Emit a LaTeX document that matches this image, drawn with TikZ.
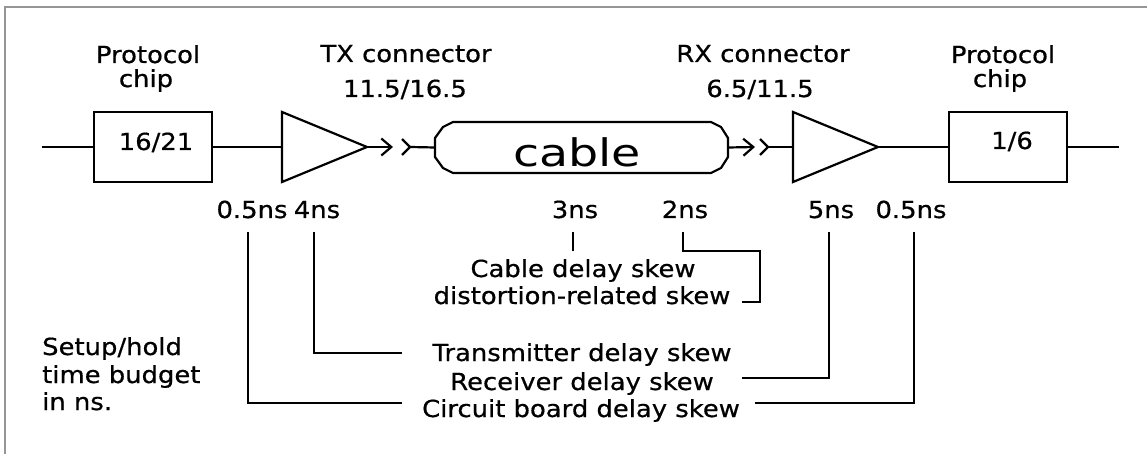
\documentclass[tikz,border=0pt]{standalone}
\usepackage{fontspec}
\usetikzlibrary{arrows.meta,shapes.geometric}
\newfontfamily\hfont[FakeStretch=1.1,FakeBold=0.6]{DejaVu Sans}
\newfontfamily\cfont[FakeStretch=1.25]{DejaVu Sans}
\definecolor{framegray}{RGB}{150,150,150}
\begin{document}
\begin{tikzpicture}[x=1pt,y=-1pt,
  wire/.style={line width=2.2pt},
  txt/.style={font=\hfont\fontsize{23.5}{24}\selectfont, inner sep=0pt, anchor=base},
  chipbox/.style={draw, line width=2.2pt, minimum width=118pt, minimum height=70pt, inner sep=0pt, outer sep=0pt},
  amp/.style={draw, line width=2.2pt, isosceles triangle, isosceles triangle stretches,
              minimum width=70pt, minimum height=85pt, inner sep=0pt, outer sep=0pt, anchor=lower side},
  barb/.style={-{Straight Barb[length=10pt,width=17pt]}},
  bracket/.style={line width=2.2pt}]
\useasboundingbox (0,0) rectangle (1147,454);
\draw[framegray, line width=1.2pt] (5,454) -- (5,7) -- (1147,7);

% main chain
\node[chipbox] (chipL) at (153,147) {};
\node[chipbox] (chipR) at (1008,147) {};
\node[amp] (tx) at (282,147) {};
\node[amp] (rx) at (793,147) {};
\node[minimum width=293pt, minimum height=51pt, inner sep=0pt, outer sep=0pt] (cable) at (581.5,147.5) {};
\draw[wire, line join=round] (453,122) -- (443,127) -- (435,138) -- (435,157) -- (443,168) -- (453,173)
   -- (711,173) -- (721,168) -- (728,157) -- (728,138) -- (721,127) -- (711,122) -- cycle;

\coordinate (inL) at (42,147);
\coordinate (outR) at (1119,147);
\coordinate (txTip) at (393,147);
\coordinate (txCh) at (410,147);
\coordinate (rxTip) at (755,147);
\coordinate (rxCh) at (768,147);

\draw[wire] (inL) -- (chipL.west);
\draw[wire] (chipL.east) -- (tx.lower side);
\draw[wire, barb] (tx.apex) -- (txTip);
\draw[wire] ([shift={(-8,-8)}]txCh) -- (txCh) -- ([shift={(-8,8)}]txCh);
\draw[wire] (txCh) -- (cable.west);
\draw[wire, barb] (cable.east) -- (rxTip);
\draw[wire] ([shift={(-8,-8)}]rxCh) -- (rxCh) -- ([shift={(-8,8)}]rxCh);
\draw[wire] (rxCh) -- (rx.lower side);
\draw[wire] (rx.apex) -- (chipR.west);
\draw[wire] (chipR.east) -- (outR);

% texts above
\node[txt] (pL1) at (148,63) {Protocol};
\node[txt] (pL2) at (146,87) {chip};
\node[txt] (txl1) at (406,62) {TX connector};
\node[txt] (txl2) at (405,97) {11.5/16.5};
\node[txt] (rxl1) at (763,62) {RX connector};
\node[txt] (rxl2) at (760,97) {6.5/11.5};
\node[txt] (pR1) at (1003,63) {Protocol};
\node[txt] (pR2) at (1000,87) {chip};
\node[txt] (v16) at (156,150) {16/21};
\node[txt] (v1) at (1012,149) {1/6};
\node[font=\cfont\fontsize{38}{40}\selectfont, inner sep=0pt, anchor=base] (cabletxt) at (577,167) {cable};

% delay values
\node[txt] (d05a) at (252,218) {0.5ns};
\node[txt] (d4) at (317,218) {4ns};
\node[txt] (d3) at (575,218) {3ns};
\node[txt] (d2) at (685,218) {2ns};
\node[txt] (d5) at (831,218) {5ns};
\node[txt] (d05b) at (911,218) {0.5ns};

% skew labels
\node[txt] (sCable) at (583,277) {Cable delay skew};
\node[txt] (sDist) at (582,304) {distortion-related skew};
\node[txt] (sTx) at (582,361) {Transmitter delay skew};
\node[txt] (sRx) at (582,390) {Receiver delay skew};
\node[txt] (sCb) at (581,417) {Circuit board delay skew};

\node[txt, anchor=base west] (su1) at (42,355) {Setup/hold};
\node[txt, anchor=base west] (su2) at (42,383) {time budget};
\node[txt, anchor=base west] (su3) at (42,410) {in ns.};

% leader lines
\coordinate (k05a) at (248,232);
\coordinate (k4) at (314,232);
\coordinate (k3) at (573,232);
\coordinate (k2) at (683,232);
\coordinate (k5) at (829,232);
\coordinate (k05b) at (914,232);
\coordinate (cbL) at (402,403);
\coordinate (cbR) at (755,403);
\coordinate (txL) at (402,353);
\coordinate (rxR) at (742,378);
\coordinate (c3) at (573,251);
\coordinate (b1) at (760,251);
\coordinate (b2) at (742,302);

\draw[bracket] (k05a) |- (cbL);
\draw[bracket] (cbR) -| (k05b);
\draw[bracket] (k4) |- (txL);
\draw[bracket] (rxR) -| (k5);
\draw[bracket] (k3) -- (c3);
\draw[bracket] (k2) |- (b1) |- (b2);
\end{tikzpicture}
\end{document}
